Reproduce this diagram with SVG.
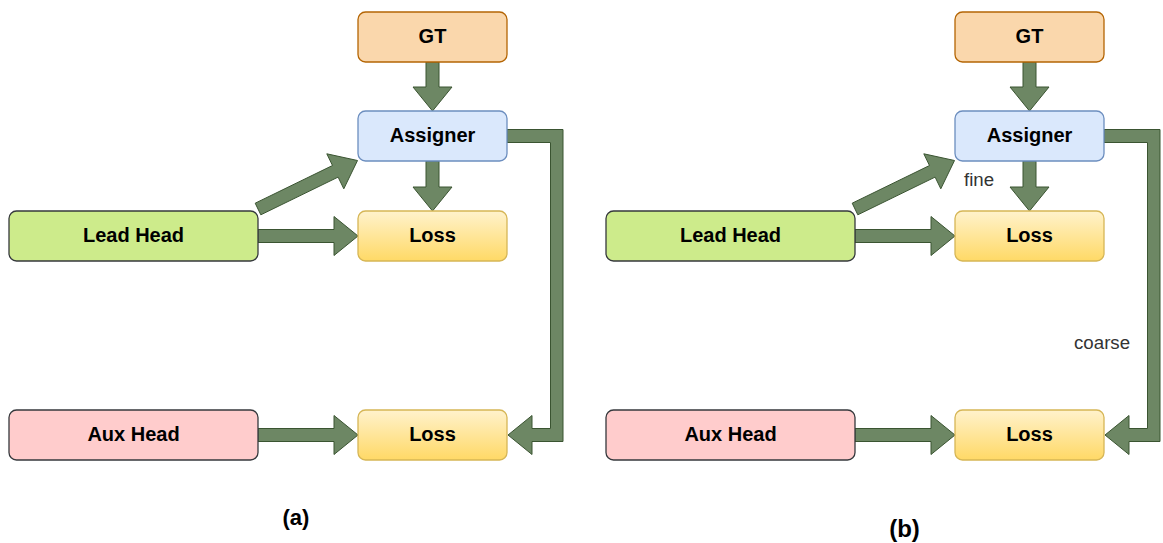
<svg xmlns="http://www.w3.org/2000/svg" width="1163" height="543" viewBox="0 0 1163 543">
  <style>
    .box { stroke-width: 1.3; }
    .gt { fill: #fad7ac; stroke: #b46504; }
    .assigner { fill: #dae8fc; stroke: #6c8ebf; }
    .loss { fill: url(#lossFill); stroke: #d6b656; }
    .lead { fill: #cdeb8b; stroke: #36393d; }
    .aux { fill: #ffcccc; stroke: #36393d; }
    .label { font-family: "Liberation Sans", Arial, sans-serif; font-weight: bold; font-size: 20px; fill: #000; text-anchor: middle; dominant-baseline: central; }
    .flow { fill: #6d8764; stroke: #3a5431; stroke-width: 1; stroke-linejoin: miter; }
    .note { font-family: "Liberation Sans", Arial, sans-serif; font-size: 18.7px; fill: #333333; }
    .caption { font-family: "Liberation Sans", Arial, sans-serif; font-weight: bold; fill: #000; text-anchor: middle; }
  </style>
  <defs>
    <linearGradient id="lossFill" x1="0" y1="0" x2="0" y2="1">
      <stop offset="0" stop-color="#fff2cc"/>
      <stop offset="1" stop-color="#ffd966"/>
    </linearGradient>
  </defs>

  <rect width="1163" height="543" fill="#ffffff"/>

  <!-- Panel (a) -->
  <g id="panel-a">
    <g id="connectors-a">
      <!-- GT to Assigner -->
      <polygon class="flow" points="426,62 439,62 439,87 452,87 432.5,111 413,87 426,87"/>
      <!-- Assigner to Loss -->
      <polygon class="flow" points="426,161 439,161 439,187 452,187 432.5,211 413,187 426,187"/>
      <!-- Lead Head to Loss -->
      <polygon class="flow" points="258,229.5 334,229.5 334,216.5 358,236 334,255.5 334,242.5 258,242.5"/>
      <!-- Lead Head to Assigner -->
      <polygon class="flow" points="255.2,203.2 332.5,165.5 326.8,153.8 357.5,160.5 343.8,188.8 338.1,177.1 260.8,214.8"/>
      <!-- Aux Head to Loss -->
      <polygon class="flow" points="258,428.5 334,428.5 334,415.5 358,435 334,454.5 334,441.5 258,441.5"/>
      <!-- Assigner to lower Loss -->
      <polygon class="flow" points="507,129.5 563,129.5 563,441.5 532,441.5 532,454.5 508,435 532,415.5 532,428.5 550.5,428.5 550.5,142.5 507,142.5"/>
    </g>
    <g id="gt-a"><rect class="box gt" x="358" y="12" width="149" height="50" rx="7.5"/><text class="label" x="432.5" y="35.5">GT</text></g>
    <g id="assigner-a"><rect class="box assigner" x="358" y="111" width="149" height="50" rx="7.5"/><text class="label" x="432.5" y="134.5">Assigner</text></g>
    <g id="loss-lead-a"><rect class="box loss" x="358" y="211" width="149" height="50" rx="7.5"/><text class="label" x="432.5" y="234.5">Loss</text></g>
    <g id="loss-aux-a"><rect class="box loss" x="358" y="410" width="149" height="50" rx="7.5"/><text class="label" x="432.5" y="433.5">Loss</text></g>
    <g id="lead-head-a"><rect class="box lead" x="9" y="211" width="249" height="50" rx="7.5"/><text class="label" x="133.5" y="234.5">Lead Head</text></g>
    <g id="aux-head-a"><rect class="box aux" x="9" y="410" width="249" height="50" rx="7.5"/><text class="label" x="133.5" y="433.5">Aux Head</text></g>
    <text class="caption" x="296" y="525" font-size="22">(a)</text>
  </g>

  <!-- Panel (b) -->
  <g id="panel-b">
    <g id="connectors-b" transform="translate(597,0)">
      <polygon class="flow" points="426,62 439,62 439,87 452,87 432.5,111 413,87 426,87"/>
      <polygon class="flow" points="426,161 439,161 439,187 452,187 432.5,211 413,187 426,187"/>
      <polygon class="flow" points="258,229.5 334,229.5 334,216.5 358,236 334,255.5 334,242.5 258,242.5"/>
      <polygon class="flow" points="255.2,203.2 332.5,165.5 326.8,153.8 357.5,160.5 343.8,188.8 338.1,177.1 260.8,214.8"/>
      <polygon class="flow" points="258,428.5 334,428.5 334,415.5 358,435 334,454.5 334,441.5 258,441.5"/>
      <polygon class="flow" points="507,129.5 563,129.5 563,441.5 532,441.5 532,454.5 508,435 532,415.5 532,428.5 550.5,428.5 550.5,142.5 507,142.5"/>
    </g>
    <g id="gt-b"><rect class="box gt" x="955" y="12" width="149" height="50" rx="7.5"/><text class="label" x="1029.5" y="35.5">GT</text></g>
    <g id="assigner-b"><rect class="box assigner" x="955" y="111" width="149" height="50" rx="7.5"/><text class="label" x="1029.5" y="134.5">Assigner</text></g>
    <g id="loss-lead-b"><rect class="box loss" x="955" y="211" width="149" height="50" rx="7.5"/><text class="label" x="1029.5" y="234.5">Loss</text></g>
    <g id="loss-aux-b"><rect class="box loss" x="955" y="410" width="149" height="50" rx="7.5"/><text class="label" x="1029.5" y="433.5">Loss</text></g>
    <g id="lead-head-b"><rect class="box lead" x="606" y="211" width="249" height="50" rx="7.5"/><text class="label" x="730.5" y="234.5">Lead Head</text></g>
    <g id="aux-head-b"><rect class="box aux" x="606" y="410" width="249" height="50" rx="7.5"/><text class="label" x="730.5" y="433.5">Aux Head</text></g>
    <text class="note" x="964" y="186">fine</text>
    <text class="note" x="1074" y="349">coarse</text>
    <text class="caption" x="904.5" y="537" font-size="24">(b)</text>
  </g>
</svg>
